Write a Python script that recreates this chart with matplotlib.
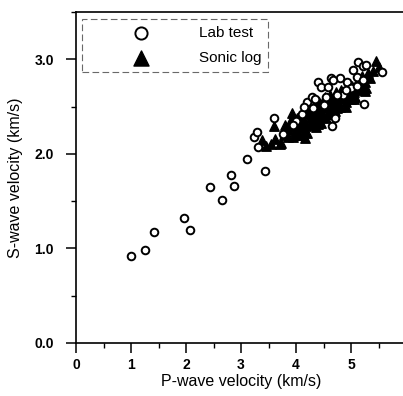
import numpy as np
import matplotlib.pyplot as plt
from matplotlib.ticker import MultipleLocator, FormatStrFormatter

plt.rcParams["font.family"] = ["Liberation Sans", "DejaVu Sans"]

# Lab test (open circles): P-wave, S-wave velocity (km/s)
lab_vp = [1.00, 1.25, 1.42, 1.96, 2.07, 2.44, 2.65, 2.82, 2.87, 3.11, 3.44, 3.31, 3.24, 3.29,
          3.60, 3.76, 4.20, 4.29, 4.40, 4.45, 4.58, 4.64, 4.80, 4.93, 5.04, 5.11, 5.13, 5.22,
          5.27, 5.22, 5.56, 5.24, 4.71, 4.65, 4.67, 4.00, 4.10, 4.30, 4.50, 4.85, 5.00, 3.95,
          4.75, 4.15, 4.35, 4.55, 5.10, 4.90]
lab_vs = [0.92, 0.98, 1.17, 1.32, 1.20, 1.65, 1.51, 1.78, 1.66, 1.95, 1.82, 2.07, 2.18, 2.23,
          2.38, 2.21, 2.55, 2.60, 2.76, 2.71, 2.71, 2.80, 2.80, 2.76, 2.89, 2.81, 2.97, 2.93,
          2.94, 2.78, 2.87, 2.53, 2.38, 2.29, 2.78, 2.35, 2.42, 2.48, 2.52, 2.62, 2.70, 2.30,
          2.62, 2.50, 2.58, 2.60, 2.72, 2.68]

# Sonic log (filled triangles)
log_vp = [3.38, 3.45, 3.55, 3.60, 3.62, 3.70, 3.73, 3.78, 3.85, 3.88, 3.93, 3.95, 3.98, 4.00,
          4.02, 4.05, 4.08, 4.10, 4.12, 4.15, 4.16, 4.18, 4.20, 4.22, 4.25, 4.28, 4.30, 4.32,
          4.35, 4.36, 4.38, 4.40, 4.42, 4.45, 4.48, 4.50, 4.52, 4.55, 4.58, 4.60, 4.62, 4.65,
          4.68, 4.70, 4.72, 4.75, 4.78, 4.80, 4.82, 4.85, 4.88, 4.90, 4.92, 4.95, 4.98, 5.00,
          5.02, 5.05, 5.08, 5.10, 5.12, 5.15, 5.18, 5.20, 5.25, 5.28, 5.30, 5.35, 5.40, 5.45,
          5.50, 4.05, 4.25, 3.80, 4.45, 4.60, 3.90, 4.10, 4.35, 4.70, 4.95, 5.15,
          4.00, 4.20, 4.40, 4.55, 4.75, 4.90, 5.05, 5.25, 3.85, 4.15, 4.30, 4.65]
log_vs = [2.15, 2.08, 2.10, 2.29, 2.16, 2.10, 2.12, 2.20, 2.18, 2.28, 2.43, 2.18, 2.30, 2.25,
          2.38, 2.32, 2.40, 2.28, 2.45, 2.35, 2.17, 2.29, 2.42, 2.50, 2.38, 2.45, 2.33, 2.52,
          2.42, 2.28, 2.48, 2.38, 2.55, 2.45, 2.40, 2.52, 2.60, 2.48, 2.42, 2.55, 2.62, 2.50,
          2.58, 2.45, 2.65, 2.55, 2.60, 2.50, 2.68, 2.58, 2.62, 2.55, 2.70, 2.62, 2.66, 2.58,
          2.72, 2.65, 2.60, 2.70, 2.78, 2.68, 2.73, 2.82, 2.76, 2.70, 2.85, 2.80, 2.88, 2.98,
          2.92, 2.20, 2.30, 2.30, 2.33, 2.42, 2.36, 2.36, 2.50, 2.52, 2.66, 2.74,
          2.20, 2.22, 2.32, 2.38, 2.48, 2.50, 2.58, 2.66, 2.25, 2.24, 2.40, 2.44]

x_ticks = [0, 1, 2, 3, 4, 5]
y_ticks = [0.0, 1.0, 2.0, 3.0]

fig = plt.figure(figsize=(4.03, 3.96), dpi=100)
ax = fig.add_axes([76 / 403, 53 / 396, 330 / 403, 331 / 396])

ax.scatter(log_vp, log_vs, marker="^", s=46, color="black", zorder=2, label="Sonic log")
ax.scatter(lab_vp, lab_vs, marker="o", s=30, facecolor="white", edgecolor="black",
           linewidth=1.4, zorder=3, label="Lab test")

ax.set_xlim(0, 6)
ax.set_ylim(0, 3.5)
ax.set_xticks(x_ticks)
ax.set_yticks(y_ticks)
ax.xaxis.set_minor_locator(MultipleLocator(0.5))
ax.yaxis.set_minor_locator(MultipleLocator(0.5))
ax.yaxis.set_major_formatter(FormatStrFormatter("%.1f"))
ax.tick_params(which="major", direction="out", length=7, width=1.1, labelsize=10, pad=4)
ax.tick_params(which="minor", direction="out", length=3.5, width=1.0)
ax.tick_params(axis="y", which="major", pad=9)
for lab in ax.get_xticklabels() + ax.get_yticklabels():
    lab.set_fontweight("bold")

for s in ["left", "bottom", "top"]:
    ax.spines[s].set_linewidth(1.2)
ax.spines["right"].set_visible(False)

ax.set_xlabel("P-wave velocity (km/s)", fontsize=11.5, labelpad=1)
ax.set_ylabel("S-wave velocity (km/s)", fontsize=11.5, labelpad=8)

h, l = ax.get_legend_handles_labels()
leg = ax.legend([h[1], h[0]], [l[1], l[0]], loc="upper left", bbox_to_anchor=(0.018, 0.979),
                borderaxespad=0, fontsize=11, handlelength=6.8, handletextpad=0.4,
                borderpad=0.45, labelspacing=0.75, fancybox=False, scatterpoints=1,
                markerscale=1.6)
frame = leg.get_frame()
frame.set_edgecolor("#444444")
frame.set_linewidth(0.8)
frame.set_linestyle((0, (6, 3)))

fig.savefig("out.png", dpi=100)
